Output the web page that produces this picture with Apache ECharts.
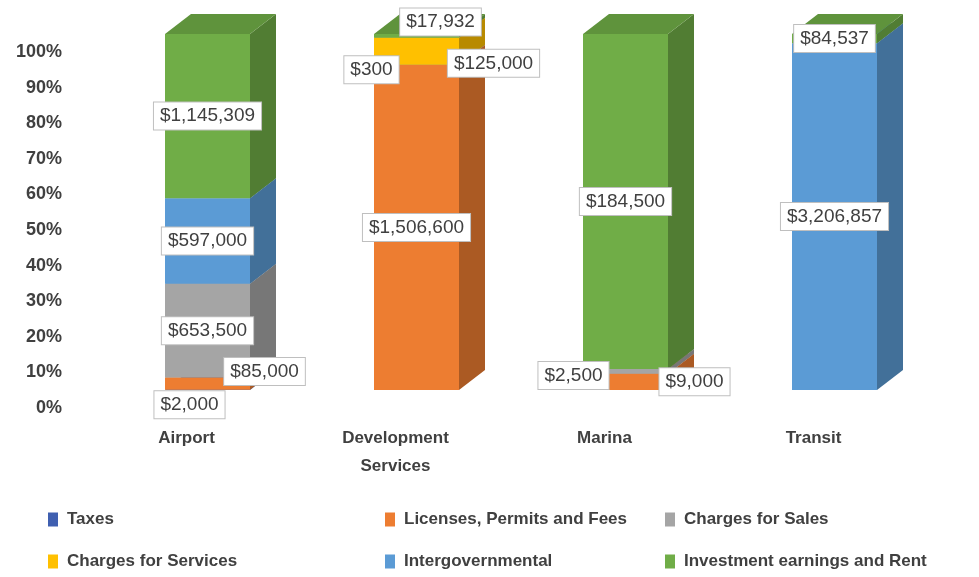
<!DOCTYPE html>
<html>
<head>
<meta charset="utf-8">
<script src="https://cdn.jsdelivr.net/npm/echarts@6/dist/echarts.min.js"></script>
<style>
  html, body { margin: 0; background: #fff; }
  #chart { width: 979px; height: 577px; }
</style>
</head>
<body>
<div id="chart"></div>
<script>
// data
const categories = ['Airport', 'Development\nServices', 'Marina', 'Transit']
const seriesNames = ['Taxes', 'Licenses, Permits and Fees', 'Charges for Sales',
  'Charges for Services', 'Intergovernmental', 'Investment earnings and Rent']
const taxes = [2000, 0, 0, 0]
const licenses = [85000, 1506600, 9000, 0]
const chargesSales = [653500, 300, 2500, 0]
const chargesServices = [0, 125000, 0, 0]
const intergovernmental = [597000, 0, 0, 3206857]
const investment = [1145309, 17932, 184500, 84537]
const allSeries = [taxes, licenses, chargesSales, chargesServices, intergovernmental, investment]

// styles
const colors = ['#3f5fb0', '#ed7d31', '#a5a5a5', '#ffc000', '#5b9bd5', '#70ad47']
const BAR_W = 85
const FRONT_DX = 21, FRONT_DY = -18   // front face offset from axis plane
const DX = 26, DY = 20                // depth of the boxes
// label nudges where Excel moved them off the thin segments (cat-series)
const labelShift = {
  '0-0': [-18, 15], '0-1': [57, -12],
  '1-2': [-45, 5], '1-3': [77, 12], '1-5': [24, -14],
  '2-1': [69, 0], '2-2': [-52, 4]
}

function shade(hex, k) {
  const n = parseInt(hex.slice(1), 16)
  const r = Math.round(((n >> 16) & 255) * k)
  const g = Math.round(((n >> 8) & 255) * k)
  const b = Math.round((n & 255) * k)
  return 'rgb(' + r + ',' + g + ',' + b + ')'
}

// 100% stacking
const totals = categories.map((c, i) => allSeries.reduce((s, arr) => s + arr[i], 0))
const segs = allSeries.map(() => [])
const labelRows = []
categories.forEach((c, ci) => {
  let acc = 0
  allSeries.forEach((arr, si) => {
    const lo = acc / totals[ci] * 100
    acc += arr[ci]
    const hi = acc / totals[ci] * 100
    segs[si].push([ci, lo, hi])
    if (arr[ci] > 0) labelRows.push([ci, (lo + hi) / 2, arr[ci], si])
  })
})

function renderBox(params, api) {
  const cat = api.value(0), lo = api.value(1), hi = api.value(2)
  if (hi - lo <= 0) return null
  const p0 = api.coord([cat, lo]), p1 = api.coord([cat, hi])
  const xl = p0[0] + FRONT_DX - BAR_W / 2, xr = xl + BAR_W
  const yb = p0[1] + FRONT_DY, yt = p1[1] + FRONT_DY
  const c = colors[params.seriesIndex]
  return {
    type: 'group',
    children: [
      { type: 'polygon', shape: { points: [[xr, yb], [xr + DX, yb - DY], [xr + DX, yt - DY], [xr, yt]] },
        style: { fill: shade(c, 0.72) } },
      { type: 'polygon', shape: { points: [[xl, yt], [xr, yt], [xr + DX, yt - DY], [xl + DX, yt - DY]] },
        style: { fill: shade(c, 0.85) } },
      { type: 'rect', shape: { x: xl, y: yt, width: BAR_W, height: yb - yt }, style: { fill: c } }
    ]
  }
}

function renderLabel(params, api) {
  const cat = api.value(0), mid = api.value(1), val = api.value(2), si = api.value(3)
  const p = api.coord([cat, mid])
  const sh = labelShift[cat + '-' + si] || [0, 0]
  return {
    type: 'text',
    style: {
      text: '$' + val.toLocaleString('en-US'),
      x: p[0] + FRONT_DX + sh[0], y: p[1] + FRONT_DY + sh[1],
      align: 'center', verticalAlign: 'middle',
      fill: '#404040', font: '19px "Liberation Sans"',
      backgroundColor: '#fff', borderColor: '#bfbfbf', borderWidth: 1,
      padding: [4, 6]
    }
  }
}

const chart = echarts.init(document.getElementById('chart'))
const legendText = { fontSize: 17, fontWeight: 'bold', color: '#404040', fontFamily: 'Liberation Sans', padding: [0, 0, 0, 4] }
const legendBase = {
  orient: 'vertical', icon: 'rect', itemWidth: 10, itemHeight: 14, itemGap: 25,
  top: 511, height: 70, padding: 0, textStyle: legendText
}

chart.setOption({
  animation: false,
  grid: { left: 82, right: 61, top: 52, bottom: 169 },
  legend: [
    Object.assign({ left: 48, data: [seriesNames[0], seriesNames[3]] }, legendBase),
    Object.assign({ left: 385, data: [seriesNames[1], seriesNames[4]] }, legendBase),
    Object.assign({ left: 665, data: [seriesNames[2], seriesNames[5]] }, legendBase)
  ],
  xAxis: {
    type: 'category', data: categories,
    axisLine: { show: false }, axisTick: { show: false },
    axisLabel: { margin: 16, fontSize: 17, fontWeight: 'bold', color: '#404040', lineHeight: 28, fontFamily: 'Liberation Sans' }
  },
  yAxis: {
    type: 'value', min: 0, max: 100, interval: 10,
    axisLine: { show: false }, axisTick: { show: false }, splitLine: { show: false },
    axisLabel: { formatter: '{value}%', margin: 20, fontSize: 18, fontWeight: 'bold', color: '#404040', fontFamily: 'Liberation Sans' }
  },
  series: seriesNames.map((name, i) => ({
    type: 'custom', name: name, data: segs[i], renderItem: renderBox,
    encode: { x: 0, y: [1, 2] }, itemStyle: { color: colors[i] }
  })).concat([{
    type: 'custom', name: 'labels', data: labelRows, renderItem: renderLabel,
    encode: { x: 0, y: 1 }, z: 10, silent: true
  }])
})
</script>
</body>
</html>
